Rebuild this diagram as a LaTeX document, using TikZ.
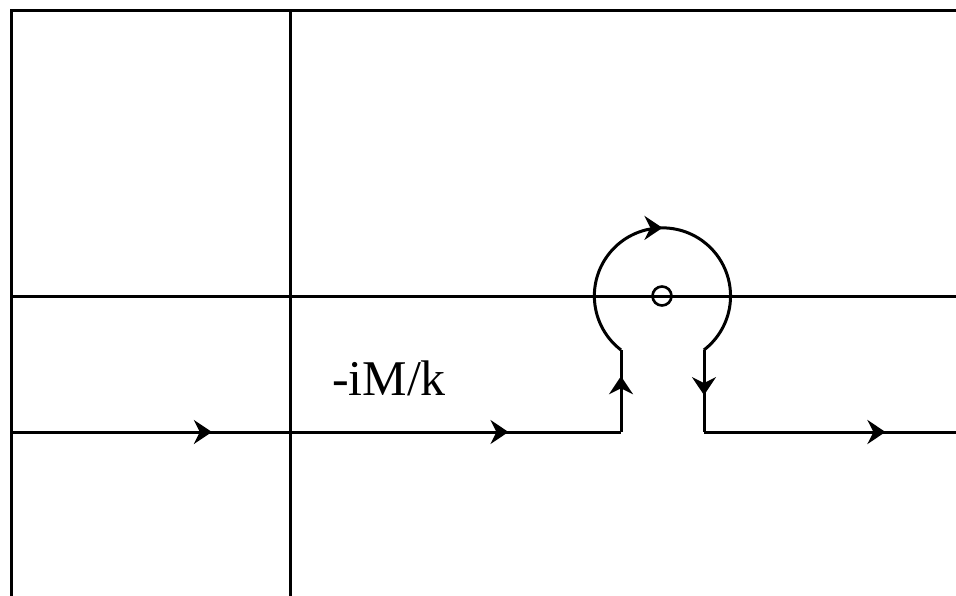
\documentclass[tikz,border=0pt]{standalone}
\usepackage{fontspec}
\setmainfont{Liberation Serif}
\usetikzlibrary{arrows.meta,decorations.markings}
\begin{document}
\begin{tikzpicture}[x=1pt,y=-1pt,
  axis/.style={line width=3pt},
  path/.style={line width=3pt},
  midarrow/.style={postaction={decorate},decoration={markings,mark=at position #1 with {\arrow{Stealth[length=18pt,width=24pt,inset=6pt]}}}}
]
\useasboundingbox (0,0) rectangle (956,596);
% frame and axes
\coordinate (tl) at (11,11);
\coordinate (tr) at (956,11);
\coordinate (bl) at (11,596);
\coordinate (vt) at (290,11);
\coordinate (vb) at (290,596);
\coordinate (hl) at (11,296);
\coordinate (hr) at (956,296);
\draw[axis] (tr) -- (tl) -- (bl);
\draw[axis] (vt) -- (vb);
\draw[axis] (hl) -- (hr);
% pole
\node[draw,circle,line width=2.6pt,minimum size=19pt,inner sep=0pt] (pole) at (662,296) {};
% contour
\coordinate (c0) at (11,432);
\coordinate (cm) at (290,432);
\coordinate (c1) at (621,432);
\coordinate (c2) at (621,350);
\coordinate (c3) at (704,350);
\coordinate (c4) at (704,432);
\coordinate (c5) at (956,432);
\draw[path,midarrow=0.72] (c0) -- (cm);
\draw[path,midarrow=0.66] (cm) -- (c1);
\draw[path,midarrow=0.68] (c1) -- (c2);
\draw[path,midarrow=0.5] (c2) arc[start angle=127.5, end angle=412.5, radius=68.1];
\draw[path,midarrow=0.55] (c3) -- (c4);
\draw[path,midarrow=0.72] (c4) -- (c5);
% label
\node[font=\fontsize{50}{55}\selectfont,anchor=base,inner sep=0pt] (lbl) at (389,395) {-iM/k};
\end{tikzpicture}
\end{document}
